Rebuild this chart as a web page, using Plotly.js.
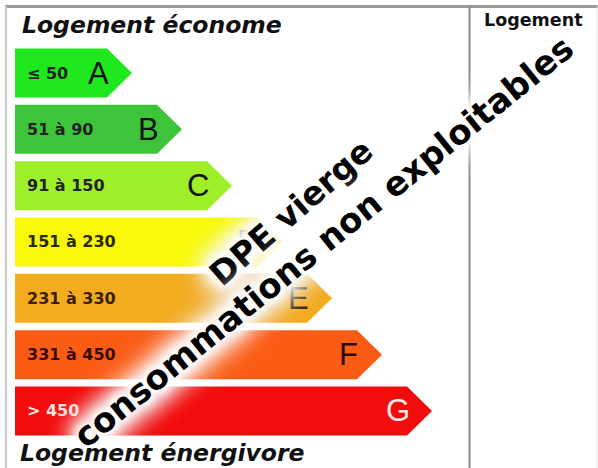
<!DOCTYPE html>
<html><head><meta charset="utf-8">
<script src="https://cdn.plot.ly/plotly-3.0.1.min.js"></script>
<style>html,body{margin:0;padding:0;background:#fff}#chart{width:598px;height:468px}</style>
</head><body><div id="chart"></div>
<script>
// ---- data ----
const classes = ['A', 'B', 'C', 'D', 'E', 'F', 'G'];
const rangeLabels = ['≤ 50', '51 à 90', '91 à 150', '151 à 230', '231 à 330', '331 à 450', '> 450'];
const barLengths = [1, 2, 3, 4, 5, 6, 7];   // relative arrow length of each class
// ---- styles ----
const barColors = ['#1fe81f', '#3ec43a', '#9eee2a', '#f8f808', '#f2ac1e', '#fa5c16', '#f20c0c'];
const letterColors = ['#111', '#111', '#111', '#111', '#2a1a05', '#2a0a00', '#ffe8e8'];
const rangeColors = ['#222', '#222', '#222', '#2a2a00', '#3a2000', '#3a0a00', '#ffe0e0'];

const x0 = -1.34, tip = 0.5, half = 0.435;
const traces = classes.map((c, i) => {
  const L = barLengths[i];
  return {
    type: 'scatter', mode: 'lines', fill: 'toself',
    x: [x0, L - tip, L, L - tip, x0, x0],
    y: [i - half, i - half, i, i + half, i + half, i - half],
    fillcolor: barColors[i], line: {width: 0, color: barColors[i]},
    hoverinfo: 'skip', showlegend: false
  };
});

const ann = [];
classes.forEach((c, i) => {
  ann.push({x: x0 + 0.2, y: i, xref: 'x', yref: 'y', xanchor: 'left', yanchor: 'middle',
    text: rangeLabels[i], showarrow: false,
    font: {family: 'DejaVu Sans', size: 16, weight: 700, color: rangeColors[i]}});
  ann.push({x: barLengths[i] - 0.68, y: i, xref: 'x', yref: 'y', xanchor: 'center', yanchor: 'middle',
    text: c, showarrow: false,
    font: {family: 'Liberation Sans', size: 31, color: letterColors[i]}});
});
const halo = '0 0 4px #fff, 0 0 8px #fff, 0 0 12px #fff, 0 0 16px #fff, 0 0 20px #fff, 0 0 24px #fff, ' +
  '0 0 28px #fff, 0 0 10px #fff, 0 0 32px #fff, 0 0 36px #fff, 0 0 40px #fff, 0 0 30px #fff, 0 0 18px #fff';
ann.push({x: 291/598, y: 1 - 213/468, xref: 'paper', yref: 'paper', showarrow: false,
  text: 'DPE vierge', textangle: -41,
  font: {family: 'DejaVu Sans', size: 33, weight: 700, color: '#000', shadow: halo}});
ann.push({x: 323/598, y: 1 - 242/468, xref: 'paper', yref: 'paper', showarrow: false,
  text: 'consommations non exploitables', textangle: -39,
  font: {family: 'DejaVu Sans', size: 34, weight: 700, color: '#000', shadow: halo}});
ann.push({x: 20/598, y: 1 - 25/468, xref: 'paper', yref: 'paper', xanchor: 'left', yanchor: 'middle',
  showarrow: false, text: 'Logement économe',
  font: {family: 'DejaVu Sans', size: 23.5, weight: 800, style: 'italic', color: '#111'}});
ann.push({x: 18/598, y: 1 - 453/468, xref: 'paper', yref: 'paper', xanchor: 'left', yanchor: 'middle',
  showarrow: false, text: 'Logement énergivore',
  font: {family: 'DejaVu Sans', size: 23.5, weight: 800, style: 'italic', color: '#111'}});
ann.push({x: 482/598, y: 1 - 20/468, xref: 'paper', yref: 'paper', xanchor: 'left', yanchor: 'middle',
  showarrow: false, text: 'Logement',
  font: {family: 'DejaVu Sans', size: 17.5, weight: 700, color: '#111'}});

const P = (px) => px / 598, Q = (py) => 1 - py / 468;
const shapes = [
  {type: 'line', xref: 'paper', yref: 'paper', x0: P(5), x1: P(598), y0: Q(6.5), y1: Q(6.5), line: {color: '#9a9a9a', width: 3}},
  {type: 'line', xref: 'paper', yref: 'paper', x0: P(6), x1: P(6), y0: Q(6), y1: Q(468), line: {color: '#c8c8c8', width: 2}},
  {type: 'line', xref: 'paper', yref: 'paper', x0: P(469.5), x1: P(469.5), y0: Q(6), y1: Q(468), line: {color: '#8a8a8a', width: 2}},
  {type: 'line', xref: 'paper', yref: 'paper', x0: P(597), x1: P(597), y0: Q(6), y1: Q(468), line: {color: '#e4e4e4', width: 1}}
];

const layout = {
  width: 598, height: 468, margin: {l: 0, r: 0, t: 0, b: 0},
  paper_bgcolor: '#fff', plot_bgcolor: '#fff',
  xaxis: {range: [-82/50, (598-82)/50], visible: false, fixedrange: true},
  yaxis: {range: [(468-73)/56.33, -73/56.33], visible: false, fixedrange: true},
  annotations: ann, shapes: shapes, showlegend: false
};
Plotly.newPlot('chart', traces, layout, {displayModeBar: false, staticPlot: true});
</script></body></html>
